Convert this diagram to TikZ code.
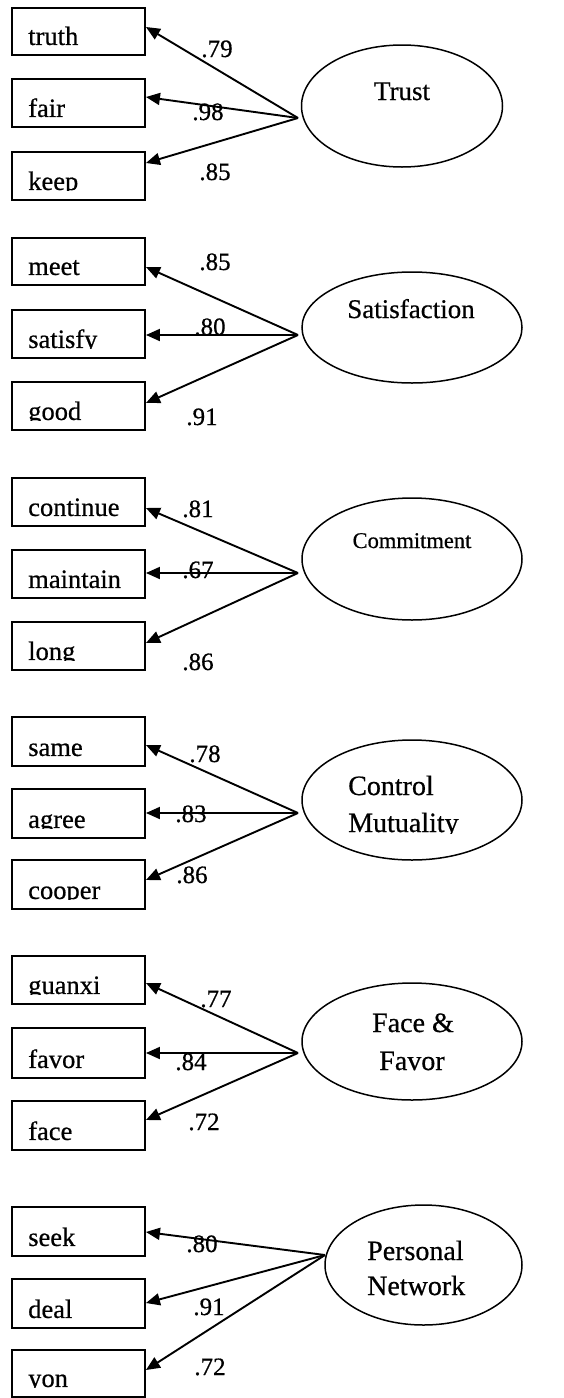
\documentclass[tikz,border=0pt]{standalone}
\usepackage{fontspec}
\setmainfont{Liberation Serif}[FakeBold=0.6]
\usetikzlibrary{arrows.meta,shapes.geometric}

\tikzset{
  obsbox/.style={draw, line width=1.9pt, minimum width=133pt, inner sep=0pt},
  obstext/.style={inner sep=0pt, anchor=base west, font=\fontsize{26.5}{30}\selectfont},
  latent/.style={draw, ellipse, line width=1.5pt, inner sep=0pt},
  lattext/.style={inner sep=0pt, anchor=base, font=\fontsize{28}{32}\selectfont},
  coef/.style={inner sep=0pt, anchor=base, font=\fontsize{25}{28}\selectfont},
  link/.style={line width=1.9pt, -{Triangle[length=14pt,width=12pt]}},
}

% indicator box: name, top y, bottom y, label (descenders trimmed at the baseline)
\newcommand\indicator[4]{%
  \node[obsbox, minimum height={(#3-#2)*1pt}] (#1) at (78.5,{(#2+#3)/2}) {};
  \begin{scope}
    \clip (#1.north west) rectangle ([yshift=10pt]#1.south east);
    \node[obstext] (#1-text) at ([xshift=17pt,yshift=11pt]#1.south west) {#4};
  \end{scope}}

\begin{document}
\begin{tikzpicture}[x=1pt,y=-1pt]
\useasboundingbox (0,0) rectangle (564,1398);

% ---------- Trust ----------
\indicator{truth}{8}{55}{truth}
\indicator{fair}{79}{127}{fair}
\indicator{keep}{152}{200}{keep}
\node[latent, minimum width=201pt, minimum height=122pt] (trust) at (402,106) {};
\node[lattext, font=\fontsize{27}{30}\selectfont] (trust-text) at (402,100) {Trust};
\coordinate (trust-o) at (298,118);
\draw[link] (trust-o) -- (truth.east |- 0,27);
\draw[link] (trust-o) -- (fair.east |- 0,97);
\draw[link] (trust-o) -- (keep.east |- 0,163);
\node[coef] (c-truth) at (217,57) {.79};
\node[coef] (c-fair) at (208,120) {.98};
\node[coef] (c-keep) at (215,180) {.85};

% ---------- Satisfaction ----------
\indicator{meet}{238}{285}{meet}
\indicator{satisfy}{310}{358}{satisfy}
\indicator{good}{382}{430}{good}
\node[latent, minimum width=220pt, minimum height=111pt] (satisfaction) at (412,327.5) {};
\node[lattext, font=\fontsize{27}{30}\selectfont] (satisfaction-text) at (411,318) {Satisfaction};
\coordinate (satisfaction-o) at (298,335);
\draw[link] (satisfaction-o) -- (meet.east |- 0,267);
\draw[link] (satisfaction-o) -- (satisfy.east |- 0,335);
\draw[link] (satisfaction-o) -- (good.east |- 0,403);
\node[coef] (c-meet) at (215,270) {.85};
\node[coef] (c-satisfy) at (210,335) {.80};
\node[coef] (c-good) at (202,425) {.91};

% ---------- Commitment ----------
\indicator{continue}{478}{526}{continue}
\indicator{maintain}{550}{598}{maintain}
\indicator{long}{622}{670}{long}
\node[latent, minimum width=220pt, minimum height=122pt] (commitment) at (412,559) {};
\node[lattext, font=\fontsize{22.5}{26}\selectfont] (commitment-text) at (412,548) {Commitment};
\coordinate (commitment-o) at (298,573);
\draw[link] (commitment-o) -- (continue.east |- 0,508);
\draw[link] (commitment-o) -- (maintain.east |- 0,573);
\draw[link] (commitment-o) -- (long.east |- 0,643);
\node[coef] (c-continue) at (198,517) {.81};
\node[coef] (c-maintain) at (198,578) {.67};
\node[coef] (c-long) at (198,670) {.86};

% ---------- Control Mutuality ----------
\indicator{same}{717}{766}{same}
\indicator{agree}{789}{838}{agree}
\indicator{cooper}{860}{909}{cooper}
\node[latent, minimum width=220pt, minimum height=120pt] (control) at (412,800) {};
\node[lattext, anchor=base west] (control-text1) at (348,795) {Control};
\begin{scope}
  \clip (330,800) rectangle (500,833);
  \node[lattext, anchor=base west] (control-text2) at (348,832) {Mutuality};
\end{scope}
\coordinate (control-o) at (298,813);
\draw[link] (control-o) -- (same.east |- 0,745);
\draw[link] (control-o) -- (agree.east |- 0,813);
\draw[link] (control-o) -- (cooper.east |- 0,880);
\node[coef] (c-same) at (205,762) {.78};
\node[coef] (c-agree) at (191,822) {.83};
\node[coef] (c-cooper) at (192,883) {.86};

% ---------- Face & Favor ----------
\indicator{guanxi}{956}{1004}{guanxi}
\indicator{favor}{1028}{1078}{favor}
\indicator{face}{1101}{1150}{face}
\node[latent, minimum width=220pt, minimum height=117pt] (faceFavor) at (412,1041.5) {};
\node[lattext] (faceFavor-text1) at (413,1032) {Face \&};
\node[lattext] (faceFavor-text2) at (412,1070) {Favor};
\coordinate (faceFavor-o) at (298,1053);
\draw[link] (faceFavor-o) -- (guanxi.east |- 0,983);
\draw[link] (faceFavor-o) -- (favor.east |- 0,1053);
\draw[link] (faceFavor-o) -- (face.east |- 0,1120);
\node[coef] (c-guanxi) at (216,1007) {.77};
\node[coef] (c-favor) at (191,1070) {.84};
\node[coef] (c-face) at (204,1130) {.72};

% ---------- Personal Network ----------
\indicator{seek}{1207}{1256}{seek}
\indicator{deal}{1279}{1328}{deal}
\indicator{yon}{1350}{1397}{yon}
\node[latent, minimum width=197pt, minimum height=120pt] (network) at (423.5,1265) {};
\node[lattext, anchor=base west] (network-text1) at (367,1260) {Personal};
\node[lattext, anchor=base west] (network-text2) at (367,1295) {Network};
\coordinate (network-o) at (325,1255);
\draw[link] (network-o) -- (seek.east |- 0,1232);
\draw[link] (network-o) -- (deal.east |- 0,1303);
\draw[link] (network-o) -- (yon.east |- 0,1370);
\node[coef] (c-seek) at (202,1252) {.80};
\node[coef] (c-deal) at (209,1315) {.91};
\node[coef] (c-yon) at (210,1375) {.72};
\end{tikzpicture}
\end{document}
